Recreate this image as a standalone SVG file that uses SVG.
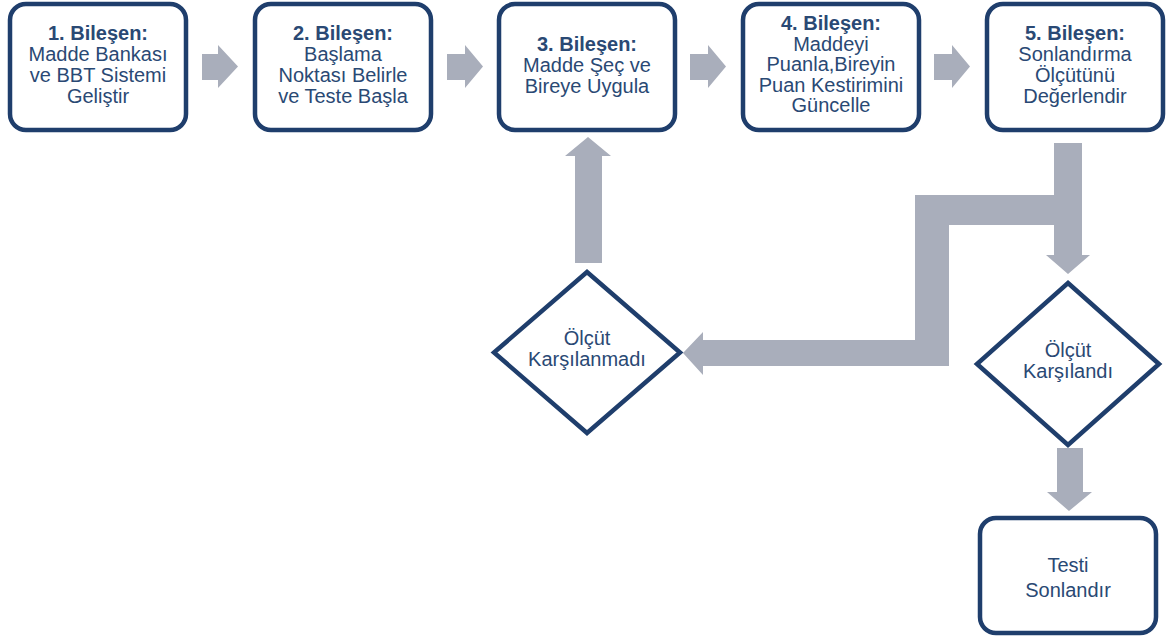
<svg xmlns="http://www.w3.org/2000/svg" width="1166" height="637" viewBox="0 0 1166 637">
<style>
.box{fill:#fff;stroke:#1f3e6c;stroke-width:4.5}
.t{font-family:"Liberation Sans",Arial,sans-serif;font-size:20px;fill:#2a4974;text-anchor:middle}
.b{font-weight:bold}
.arr{fill:#a9aebb}
</style>
<rect width="1166" height="637" fill="#fff"/>
<g id="connectors" class="arr">
<polygon points="202,54 218,54 218,45 238,66.5 218,88 218,80 202,80"/>
<polygon points="447,54 465,54 465,45 483,66.5 465,88 465,80 447,80"/>
<polygon points="690,54 708,54 708,45 726,66.5 708,88 708,80 690,80"/>
<polygon points="934,54 952,54 952,45 970,66.5 952,88 952,80 934,80"/>
<polygon points="575,263 575,156 565,156 588,137 611,156 602,156 602,263"/>
<polygon points="1054,143 1082,143 1082,255 1090,255 1068,274 1046,255 1054,255"/>
<polygon points="1055,195 1055,225 949,225 949,366 703,366 703,375 683,353 703,332 703,340 915,340 915,195"/>
<polygon points="1057,448 1083,448 1083,492 1092,492 1069,511 1047,492 1057,492"/>
</g>
<g id="n1">
<rect class="box" x="10" y="4" width="176" height="126" rx="16"/>
<text class="t b" x="98" y="40">1. Bileşen:</text>
<text class="t" x="98" y="61">Madde Bankası</text>
<text class="t" x="98" y="82">ve BBT Sistemi</text>
<text class="t" x="98" y="103">Geliştir</text>
</g>
<g id="n2">
<rect class="box" x="255" y="4" width="176" height="126" rx="16"/>
<text class="t b" x="343" y="40">2. Bileşen:</text>
<text class="t" x="343" y="61">Başlama</text>
<text class="t" x="343" y="82">Noktası Belirle</text>
<text class="t" x="343" y="103">ve Teste Başla</text>
</g>
<g id="n3">
<rect class="box" x="499" y="4" width="176" height="126" rx="16"/>
<text class="t b" x="587" y="51">3. Bileşen:</text>
<text class="t" x="587" y="72">Madde Şeç ve</text>
<text class="t" x="587" y="93">Bireye Uygula</text>
</g>
<g id="n4">
<rect class="box" x="743" y="4" width="176" height="126" rx="16"/>
<text class="t b" x="831" y="30">4. Bileşen:</text>
<text class="t" x="831" y="50.5">Maddeyi</text>
<text class="t" x="831" y="71">Puanla,Bireyin</text>
<text class="t" x="831" y="91.5">Puan Kestirimini</text>
<text class="t" x="831" y="112">Güncelle</text>
</g>
<g id="n5">
<rect class="box" x="987" y="4" width="176" height="126" rx="16"/>
<text class="t b" x="1075" y="40">5. Bileşen:</text>
<text class="t" x="1075" y="61">Sonlandırma</text>
<text class="t" x="1075" y="82">Ölçütünü</text>
<text class="t" x="1075" y="103">Değerlendir</text>
</g>
<g id="d1">
<polygon class="box" points="587,272 680,352.5 587,433 494,352.5"/>
<text class="t" x="587" y="345">Ölçüt</text>
<text class="t" x="587" y="366">Karşılanmadı</text>
</g>
<g id="d2">
<polygon class="box" points="1068,283 1159,364 1068,445 977,364"/>
<text class="t" x="1068" y="357">Ölçüt</text>
<text class="t" x="1068" y="378">Karşılandı</text>
</g>
<g id="n6">
<rect class="box" x="980" y="518" width="176" height="115" rx="16"/>
<text class="t" x="1068" y="572">Testi</text>
<text class="t" x="1068" y="597">Sonlandır</text>
</g>
</svg>
